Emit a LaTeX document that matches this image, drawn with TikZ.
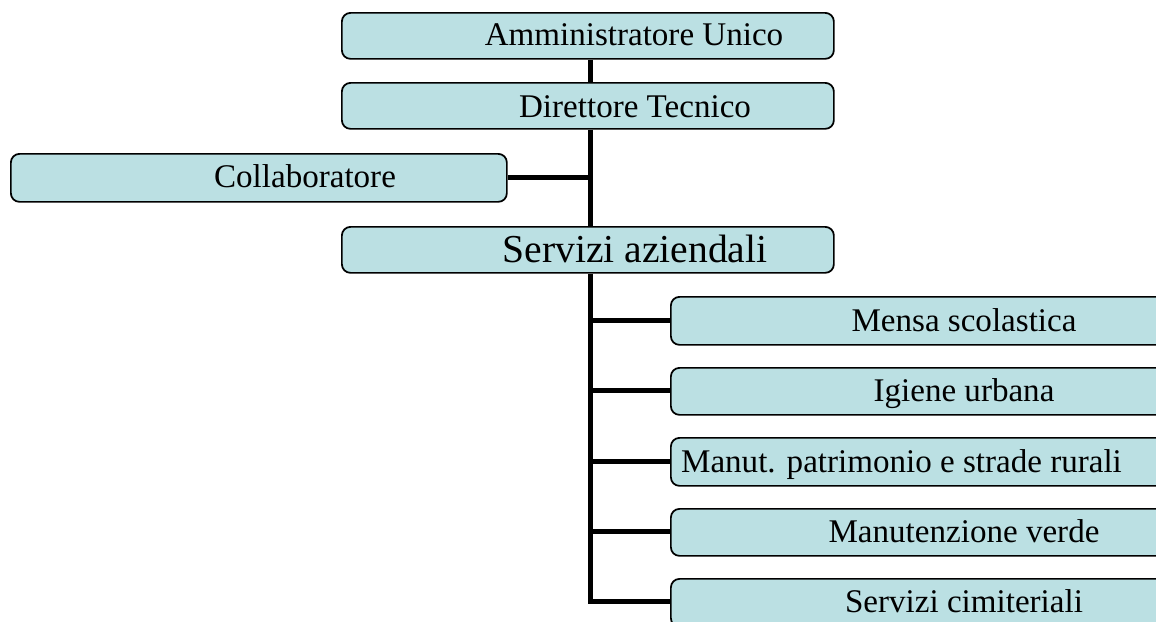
\documentclass[tikz,border=0pt]{standalone}
\usepackage{fontspec}
\setmainfont{Liberation Serif}
\definecolor{boxfill}{RGB}{187,224,227}
\tikzset{
  box/.style={draw=black, line width=1.3pt, fill=boxfill, rounded corners=6.5pt, inner sep=0pt, anchor=north west},
  lbl/.style={anchor=base, inner sep=0pt, font=\fontsize{24.8}{28}\selectfont},
  big/.style={anchor=base, inner sep=0pt, font=\fontsize{29.7}{34}\selectfont},
  conn/.style={line width=3.75pt}
}
\begin{document}
\begin{tikzpicture}[x=0.75pt, y=-0.75pt]
\clip (0,0) rectangle (1156,621);
\fill[white] (0,0) rectangle (1156,621);
% vertical trunk
\coordinate (tA) at (590,58);
% boxes
\node[box, minimum width=492*0.75pt, minimum height=46*0.75pt] (amm) at (341,12) {};
\node[box, minimum width=492*0.75pt, minimum height=46*0.75pt] (dir) at (341,82) {};
\node[box, minimum width=496*0.75pt, minimum height=48*0.75pt] (col) at (10,153) {};
\node[box, minimum width=492*0.75pt, minimum height=46*0.75pt] (ser) at (341,226) {};
\node[box, minimum width=520*0.75pt, minimum height=48*0.75pt] (m1) at (670,296) {};
\node[box, minimum width=520*0.75pt, minimum height=47*0.75pt] (m2) at (670,367) {};
\node[box, minimum width=520*0.75pt, minimum height=48*0.75pt] (m3) at (670,437) {};
\node[box, minimum width=520*0.75pt, minimum height=47*0.75pt] (m4) at (670,508) {};
\node[box, minimum width=520*0.75pt, minimum height=48*0.75pt] (m5) at (670,578) {};
% connectors
\coordinate (j0) at (590,177);
\coordinate (j1) at (590,320);
\coordinate (j2) at (590,390);
\coordinate (j3) at (590,461);
\coordinate (j4) at (590,531);
\coordinate (j5) at (590,601);
\draw[conn] (amm.south -| tA) -- (dir.north -| tA);
\draw[conn] (dir.south -| tA) -- (ser.north -| tA);
\draw[conn] (ser.south -| tA) -- (j5) -- (m5.west |- j5);
\draw[conn] (col.east |- j0) -- (j0);
\draw[conn] (j1) -- (m1.west |- j1);
\draw[conn] (j2) -- (m2.west |- j2);
\draw[conn] (j3) -- (m3.west |- j3);
\draw[conn] (j4) -- (m4.west |- j4);
% labels
\node[lbl] (ammt) at (634,45) {Amministratore Unico};
\node[lbl] (dirt) at (635,117) {Direttore Tecnico};
\node[lbl] (colt) at (305,187) {Collaboratore};
\node[big] (sert) at (635,262) {Servizi aziendali};
\node[lbl] (m1t) at (964,331) {Mensa scolastica};
\node[lbl] (m2t) at (964,401) {Igiene urbana};
\node[lbl] (m3t) at (901.5,472) {Manut. patrimonio e strade rurali};
\node[lbl] (m4t) at (964,542) {Manutenzione verde};
\node[lbl] (m5t) at (964,612) {Servizi cimiteriali};
\end{tikzpicture}
\end{document}
